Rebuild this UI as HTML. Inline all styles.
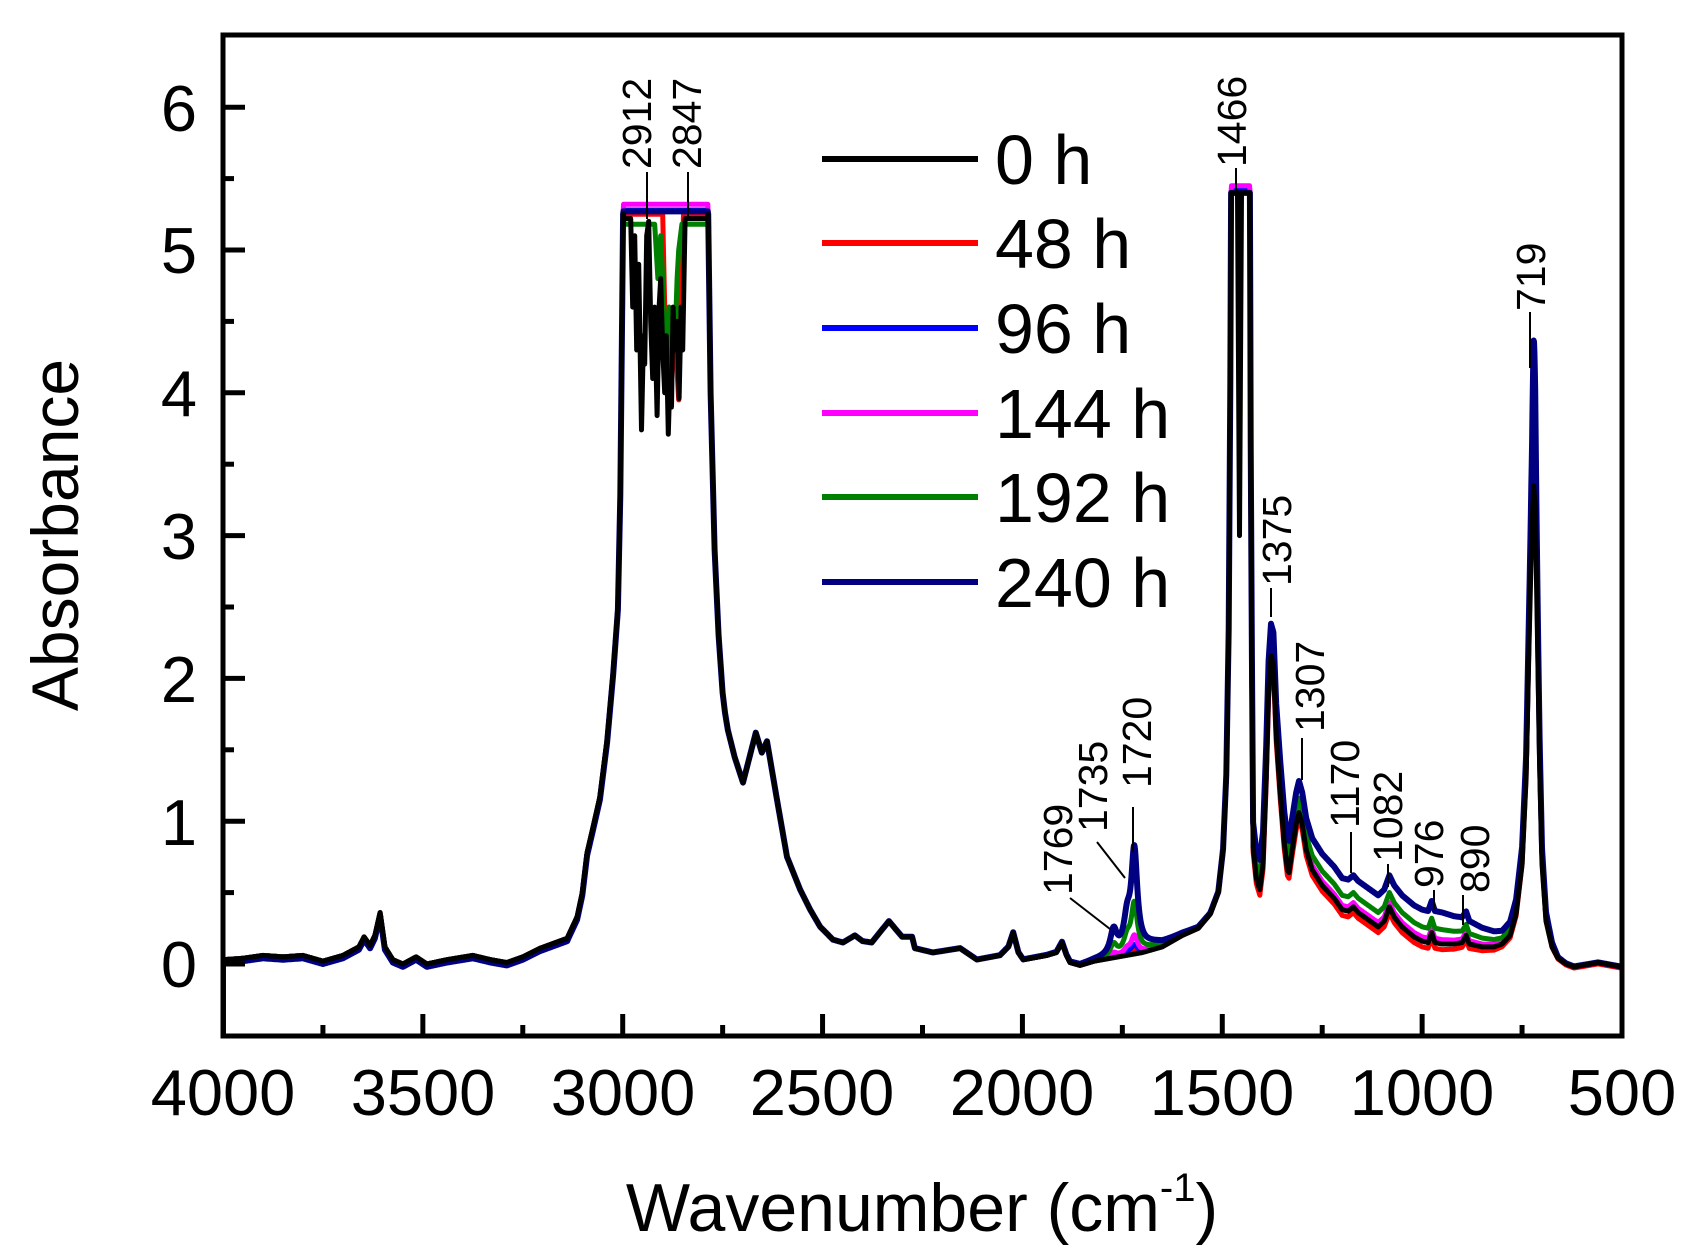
<!DOCTYPE html>
<html><head><meta charset="utf-8">
<style>
html,body{margin:0;padding:0;background:#fff;}
svg{display:block;}
text{font-family:"Liberation Sans",Arial,sans-serif;fill:#000;}
</style></head>
<body>
<svg id="s" width="1694" height="1258" viewBox="0 0 1694 1258" xmlns="http://www.w3.org/2000/svg">
<defs><clipPath id="cp"><rect x="223" y="35" width="1399" height="1001"/></clipPath></defs>
<g id="series" clip-path="url(#cp)" fill="none" stroke-linejoin="round"></g>
<rect x="223" y="35" width="1399" height="1001" fill="none" stroke="#000" stroke-width="5"/>
<g id="ticks" stroke="#000" stroke-width="5"></g>
<g font-size="65" text-anchor="end">
<text x="197" y="987">0</text><text x="197" y="845">1</text><text x="197" y="702">2</text>
<text x="197" y="559">3</text><text x="197" y="416">4</text><text x="197" y="273">5</text><text x="197" y="131">6</text>
</g>
<g font-size="65" text-anchor="middle">
<text x="223" y="1115">4000</text><text x="423" y="1115">3500</text><text x="623" y="1115">3000</text>
<text x="822" y="1115">2500</text><text x="1022" y="1115">2000</text><text x="1222" y="1115">1500</text>
<text x="1422" y="1115">1000</text><text x="1622" y="1115">500</text>
</g>
<text transform="translate(78,535) rotate(-90)" font-size="66" text-anchor="middle">Absorbance</text>
<text x="922" y="1231" font-size="68" text-anchor="middle">Wavenumber (cm<tspan font-size="40" dy="-30">-1</tspan><tspan dy="30">)</tspan></text>
<g stroke-width="6">
<line x1="822" y1="159" x2="978" y2="159" stroke="#000"/>
<line x1="822" y1="243" x2="978" y2="243" stroke="#ff0000"/>
<line x1="822" y1="328" x2="978" y2="328" stroke="#0000ff"/>
<line x1="822" y1="413" x2="978" y2="413" stroke="#ff00ff"/>
<line x1="822" y1="497" x2="978" y2="497" stroke="#008000"/>
<line x1="822" y1="582" x2="978" y2="582" stroke="#000080"/>
</g>
<g font-size="70">
<text x="995" y="184">0 h</text><text x="995" y="268">48 h</text><text x="995" y="353">96 h</text>
<text x="995" y="438">144 h</text><text x="995" y="522">192 h</text><text x="995" y="607">240 h</text>
</g>
<g stroke="#000" stroke-width="2">
<line x1="647" y1="172" x2="647" y2="219"/>
<line x1="688" y1="172" x2="688" y2="219"/>
<line x1="1236" y1="168" x2="1236" y2="197"/>
<line x1="1530" y1="312" x2="1530" y2="368"/>
<line x1="1271" y1="588" x2="1271" y2="617"/>
<line x1="1302" y1="738" x2="1302" y2="780"/>
<line x1="1351" y1="832" x2="1351" y2="873"/>
<line x1="1388" y1="864" x2="1388" y2="887"/>
<line x1="1434" y1="890" x2="1434" y2="910"/>
<line x1="1463" y1="895" x2="1463" y2="925"/>
<line x1="1133" y1="807" x2="1133" y2="852"/>
<line x1="1097" y1="842" x2="1125" y2="878"/>
<line x1="1070" y1="898" x2="1110" y2="929"/>
</g>
<g font-size="41">
<text transform="translate(651,169) rotate(-90)">2912</text>
<text transform="translate(701,169) rotate(-90)">2847</text>
<text transform="translate(1246,167) rotate(-90)">1466</text>
<text transform="translate(1545,311) rotate(-90)">719</text>
<text transform="translate(1291,586) rotate(-90)">1375</text>
<text transform="translate(1324,732) rotate(-90)">1307</text>
<text transform="translate(1359,828) rotate(-90)">1170</text>
<text transform="translate(1402,862) rotate(-90)">1082</text>
<text transform="translate(1443,888) rotate(-90)">976</text>
<text transform="translate(1489,893) rotate(-90)">890</text>
<text transform="translate(1151,788) rotate(-90)">1720</text>
<text transform="translate(1107,832) rotate(-90)">1735</text>
<text transform="translate(1072,895) rotate(-90)">1769</text>
</g>
</svg>
<script>
(function(){
var NS="http://www.w3.org/2000/svg";
function X(w){return 223+(4000-w)*0.39971;}
function Y(a){return 964-142.8*a;}
var tg=document.getElementById('ticks');
function ln(x1,y1,x2,y2){var l=document.createElementNS(NS,'line');l.setAttribute('x1',x1);l.setAttribute('y1',y1);l.setAttribute('x2',x2);l.setAttribute('y2',y2);tg.appendChild(l);}
for(var a=0;a<=6.01;a+=0.5){var y=Y(a);ln(223,y,(Math.abs(a-Math.round(a))<0.01)?245:234,y);}
for(var w=4000;w>=500;w-=250){var x=X(w);ln(x,1036,x,(w%500==0)?1014:1025);}
var B=[[4000,0.03],[3950,0.04],[3900,0.06],[3850,0.05],[3800,0.06],[3750,0.02],[3725,0.04],[3700,0.06],[3660,0.12],[3647,0.19],[3632,0.13],[3620,0.2],[3607,0.36],[3595,0.12],[3575,0.03],[3550,0.0],[3517,0.05],[3490,0.0],[3440,0.03],[3375,0.06],[3330,0.03],[3290,0.01],[3250,0.05],[3207,0.11],[3139,0.18],[3114,0.33],[3101,0.5],[3089,0.78],[3074,0.96],[3057,1.17],[3039,1.57],[3024,2.04],[3012,2.5],[3006,3.3],[3002,4.4],[2999,5.25],
[2786,5.25],[2780,4.0],[2770,2.9],[2760,2.3],[2750,1.9],[2744,1.76],[2737,1.64],[2720,1.45],[2699,1.27],[2667,1.62],[2652,1.48],[2639,1.56],[2614,1.15],[2589,0.75],[2556,0.52],[2531,0.38],[2506,0.26],[2474,0.17],[2449,0.15],[2419,0.2],[2400,0.16],[2377,0.15],[2334,0.3],[2301,0.19],[2276,0.19],[2269,0.11],[2224,0.08],[2156,0.11],[2114,0.03],[2056,0.06],[2035,0.12],[2023,0.22],[2010,0.08],[1998,0.03],[1939,0.06],[1915,0.08],[1901,0.15],[1890,0.06],[1881,0.01],[1856,-0.01],[1820,0.02],[1780,0.04],[1740,0.06],[1700,0.08],[1650,0.12],[1600,0.2],[1560,0.25],[1530,0.35],[1510,0.5],[1498,0.8],[1490,1.3],[1484,2.3],[1480,4.0],[1478,5.4],
[1431,5.4],[1429,3.5],[1426,2.0],[1423,0.82],[1415,0.6],[1406,0.52],[1398,0.7],[1390,1.3],[1384,1.9],[1378,2.16],[1372,2.1],[1365,1.6],[1355,1.2],[1345,0.85],[1337,0.66],[1333,0.64],[1325,0.8],[1315,0.98],[1308,1.06],[1300,0.98],[1290,0.8],[1275,0.66],[1250,0.55],[1220,0.46],[1200,0.38],[1185,0.37],[1172,0.4],[1160,0.36],[1130,0.3],[1110,0.26],[1095,0.3],[1082,0.4],[1070,0.33],[1050,0.26],[1020,0.19],[1000,0.16],[985,0.15],[976,0.22],[968,0.15],[950,0.14],[920,0.14],[900,0.15],[890,0.2],[882,0.14],[850,0.12],[820,0.12],[800,0.14],[780,0.2],[765,0.35],[750,0.7],[740,1.3],[733,2.2],[727,2.9],[721,3.35],[717,3.2],[712,2.4],[706,1.4],[700,0.7],[690,0.3],[675,0.12],[660,0.04],[640,0.0],[620,-0.02],[600,-0.01],[580,0.0],[560,0.01],[540,0.0],[520,-0.01],[500,-0.02]];
function interp(P,w){for(var i=0;i<P.length-1;i++){var a=P[i],b=P[i+1];if(w<=a[0]&&w>=b[0]){if(a[0]==b[0])return a[1];var t=(a[0]-w)/(a[0]-b[0]);return a[1]+t*(b[1]-a[1]);}}return P[P.length-1][1];}
function L(w,c,g){var d=(w-c)/g;return 1/(1+d*d);}
var p2=[5.4,5.4,5.42,5.45,5.4,5.4];
var dips=[
 [[2999,5.22],[2980,5.22],[2975,4.6],[2970,5.1],[2965,4.3],[2960,4.9],[2953,3.74],[2948,4.4],[2945,4.2],[2940,5.1],[2935,5.2],[2930,4.5],[2925,4.1],[2920,4.6],[2914,3.84],[2909,4.6],[2905,4.8],[2900,4.3],[2895,4.0],[2891,4.4],[2886,3.71],[2882,4.1],[2878,3.9],[2874,4.6],[2870,4.3],[2864,4.5],[2859,3.96],[2854,4.6],[2850,4.3],[2844,5.22],[2786,5.22]],
 [[2999,5.25],[2900,5.25],[2895,4.6],[2890,4.05],[2884,4.6],[2878,4.1],[2872,4.5],[2865,4.2],[2860,3.95],[2853,4.8],[2848,5.25],[2786,5.25]],
 [[2999,5.28],[2786,5.28]],
 [[2999,5.32],[2786,5.32]],
 [[2999,5.18],[2920,5.18],[2912,4.8],[2905,5.1],[2900,4.8],[2894,4.3],[2890,4.2],[2884,4.6],[2880,4.05],[2875,4.5],[2870,4.3],[2864,4.8],[2860,5.0],[2852,5.18],[2786,5.18]],
 [[2999,5.27],[2786,5.27]]];
var c=[0,0.03,0.06,0.12,0.33,0.68];
var d=[0,-0.03,0.02,0.03,0.1,0.22];
var p719=[3.35,4.0,4.2,4.25,4.25,4.33];
function S(w){if(w>1500)return 0;if(w>1400)return (1500-w)/100;if(w>950)return 1;if(w>800)return 1-0.6*(950-w)/150;if(w>740)return 0.4;if(w>660)return 0.4*(w-660)/80;return 0;}
function f(k,w){
 if(w<2999&&w>2786){return interp(dips[k],w);}
 if(w<1478&&w>1431){var v=p2[k];if(k==0){var dd=Math.abs(w-1457);if(dd<5)v=3.0+(5.4-3.0)*dd/5;}return v;}
 var a=interp(B,w);
 if(w>3000){if(k==5||k==2)a-=0.02;}
 a+=c[k]*(L(w,1720,9)+0.3*L(w,1738,10)+0.25*L(w,1772,10)+0.06*L(w,1680,60));
 a+=d[k]*S(w);
 a+=(p719[k]-3.35)*L(w,720,5.5);
 if(k==1&&w<1500)a-=0.01;
 if(w<1500&&w>1400&&a>p2[k])a=p2[k];
 return a;
}
var cols=['#000000','#ff0000','#0000ff','#ff00ff','#008000','#000080'];
var order=[1,2,3,4,5,0];
var g=document.getElementById('series');
order.forEach(function(k){
 var pts=[];
 if(k==5)pts.push(X(4000).toFixed(1)+','+Y(-0.6).toFixed(1));
 for(var w=4000;w>=500;w-=1){pts.push(X(w).toFixed(1)+','+Y(f(k,w)).toFixed(1));}
 var p=document.createElementNS(NS,'polyline');
 p.setAttribute('points',pts.join(' '));
 p.setAttribute('stroke',cols[k]);
 p.setAttribute('stroke-width',k==5?'6':'5');
 g.appendChild(p);
});
})();
</script>
</body></html>
